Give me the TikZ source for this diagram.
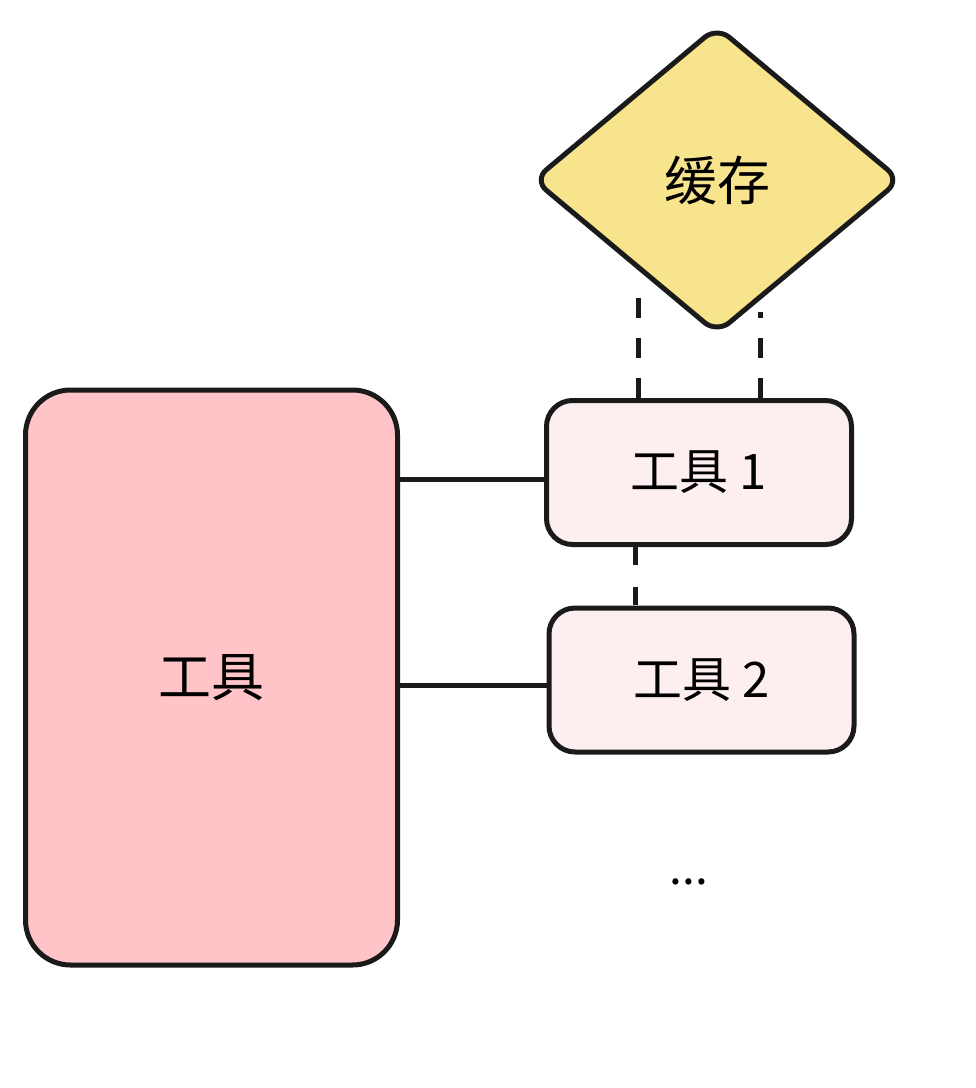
\documentclass[tikz,border=0pt]{standalone}
\usepackage{fontspec}
\setmainfont{Noto Sans CJK SC}
\usetikzlibrary{shapes.geometric}
\definecolor{bigpink}{HTML}{FEC4C7}
\definecolor{lightpink}{HTML}{FDEFEF}
\definecolor{cacheyellow}{HTML}{F8E48C}
\definecolor{inkline}{HTML}{1A1A1A}
\tikzset{
  bigbox/.style={draw=inkline, line width=5pt, fill=bigpink, rounded corners=45pt,
    minimum width=372pt, minimum height=575pt, inner sep=0pt, font=\fontsize{53}{60}\selectfont},
  toolbox/.style={draw=inkline, line width=5pt, fill=lightpink, rounded corners=26pt,
    minimum width=305pt, minimum height=144pt, inner sep=0pt, font=\fontsize{49}{56}\selectfont},
  cachebox/.style={draw=inkline, line width=5pt, fill=cacheyellow, diamond, rounded corners=16pt,
    minimum width=368pt, minimum height=308pt, inner sep=0pt, font=\fontsize{53}{60}\selectfont},
  conn/.style={draw=inkline, line width=5pt},
  dashline/.style={draw=inkline, line width=5pt, dash pattern=on 20pt off 20pt},
  dotstext/.style={font=\fontsize{46}{52}\selectfont, inner sep=0pt}
}
\begin{document}
\begin{tikzpicture}[x=1pt,y=-1pt]
\useasboundingbox[fill=white] (0,0) rectangle (976,1088);
\node[bigbox] (big) at (211.5,677.5) {工具};
\node[toolbox] (t1) at (699,472.5) {工具 1};
\node[toolbox] (t2) at (701.5,680) {工具 2};
\node[cachebox] (cache) at (717,180) {缓存};
\node[dotstext] (dots) at (689,882) {...};
\coordinate (c1) at (638,295);
\coordinate (c2) at (760,312);
\coordinate (dx) at (635,0);
\coordinate (p1) at ([yshift=-7pt]t1.west);
\coordinate (p2) at ([yshift=-5pt]t2.west);
\draw[conn] (big.east |- p1) -- (p1);
\draw[conn] (big.east |- p2) -- (p2);
\draw[dashline] (t1.north -| c1) -- (c1);
\draw[dashline] (t1.north -| c2) -- (c2);
\draw[dashline, dash pattern=on 18pt off 22pt] (t1.south -| dx) -- (t2.north -| dx);
\end{tikzpicture}
\end{document}
